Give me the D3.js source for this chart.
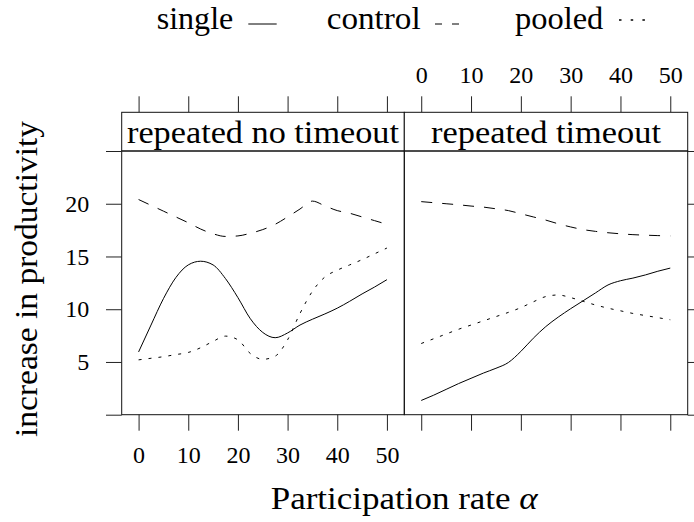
<!DOCTYPE html>
<meta charset="utf-8">
<style>
  body { margin: 0; background: #fff; }
  svg text { font-family: "Liberation Serif", "Times New Roman", serif; fill: #000; }
  .axis line { stroke: #222; }
  .axis path { display: none; }
</style>
<body>
<div id="chart"></div>
<script src="https://d3js.org/d3.v7.min.js"></script>
<script>
// participation rate grid (same for every series)
var alpha = [0, 2.5, 5, 7.5, 10, 12.5, 15, 17.5, 20, 22.5, 25, 27.5, 30, 32.5, 35, 37.5, 40, 42.5, 45, 47.5, 50];

var panels = ["repeated no timeout", "repeated timeout"];
var seriesNames = ["single", "control", "pooled"];

// repeated no timeout
var singleNoTimeout = [5.95, 8.5, 11.0, 13.0, 14.2, 14.55, 14.2, 12.9, 11.1, 9.1, 7.8, 7.3, 7.75, 8.5, 9.05, 9.55, 10.1, 10.75, 11.45, 12.1, 12.8];
var controlNoTimeout = [20.4, 19.85, 19.3, 18.75, 18.2, 17.6, 17.15, 16.9, 16.95, 17.2, 17.55, 18.05, 18.75, 19.5, 20.25, 19.8, 19.35, 19.1, 18.75, 18.4, 18.05];
var pooledNoTimeout = [5.2, 5.35, 5.5, 5.7, 5.9, 6.35, 6.95, 7.45, 7.1, 5.8, 5.25, 5.55, 7.1, 9.6, 11.7, 13.05, 13.7, 14.2, 14.7, 15.25, 15.8];

// repeated timeout
var singleTimeout = [1.35, 1.85, 2.4, 2.95, 3.45, 3.95, 4.4, 4.95, 6.0, 7.25, 8.35, 9.25, 10.05, 10.8, 11.55, 12.3, 12.7, 12.95, 13.25, 13.6, 13.9];
var controlTimeout = [20.2, 20.1, 20.0, 19.9, 19.78, 19.68, 19.52, 19.35, 19.05, 18.75, 18.45, 18.1, 17.8, 17.55, 17.38, 17.25, 17.15, 17.07, 17.02, 16.98, 16.95];
var pooledTimeout = [6.75, 7.2, 7.65, 8.1, 8.5, 8.9, 9.3, 9.7, 10.15, 10.7, 11.2, 11.35, 11.1, 10.75, 10.4, 10.1, 9.85, 9.6, 9.4, 9.2, 9.0];

var xTicks = [0, 10, 20, 30, 40, 50];
var yTicks = [0, 5, 10, 15, 20, 25];
var yLabelled = [5, 10, 15, 20];

var panelData = [
  [singleNoTimeout, controlNoTimeout, pooledNoTimeout],
  [singleTimeout, controlTimeout, pooledTimeout]
];

var dashes = { single: null, control: "11,10", pooled: "3,7" };

var W = 694, H = 522;
var pLeft = 121.7, pMid = 404.3, pRight = 687.7;
var stripTop = 112.3, pTop = 151, pBottom = 414.7;
var tick = 16;
var stripWidths = [272, 230];

var svg = d3.select("#chart").append("svg")
  .attr("width", W)
  .attr("height", H);

var y = d3.scaleLinear().domain([0, 25]).range([pBottom, pTop]);

var xs = [
  d3.scaleLinear().domain([-3.4, 53.5]).range([pLeft, pMid]),
  d3.scaleLinear().domain([-3.4, 53.5]).range([pMid, pRight])
];

panels.forEach(function(name, p) {
  var x = xs[p];
  var x0 = x.range()[0], x1 = x.range()[1];

  // ticks along bottom
  var bAxis = svg.append("g")
    .attr("class", "axis")
    .attr("transform", "translate(0," + pBottom + ")")
    .call(d3.axisBottom(x).tickValues(xTicks).tickSize(tick));
  bAxis.selectAll("text")
    .attr("y", 48.3).attr("dy", null)
    .style("font-size", "24px")
    .style("display", p == 0 ? null : "none");

  // ticks along top
  var tAxis = svg.append("g")
    .attr("class", "axis")
    .attr("transform", "translate(0," + stripTop + ")")
    .call(d3.axisTop(x).tickValues(xTicks).tickSize(tick));
  tAxis.selectAll("text")
    .attr("y", -29.3).attr("dy", null)
    .style("font-size", "24px")
    .style("display", p == 1 ? null : "none");

  // strip
  svg.append("rect")
    .attr("x", x0).attr("y", stripTop)
    .attr("width", x1 - x0).attr("height", pTop - stripTop)
    .attr("fill", "#fff").attr("stroke", "#111").attr("stroke-width", 1);
  svg.append("text")
    .attr("x", (x0 + x1) / 2).attr("y", 142.5)
    .attr("text-anchor", "middle")
    .attr("textLength", stripWidths[p])
    .attr("lengthAdjust", "spacingAndGlyphs")
    .style("font-size", "31px")
    .text(name);

  // panel box
  svg.append("rect")
    .attr("x", x0).attr("y", pTop)
    .attr("width", x1 - x0).attr("height", pBottom - pTop)
    .attr("fill", "none").attr("stroke", "#111").attr("stroke-width", 1);

  // lines
  var line = d3.line()
    .x(function(d, i) { return x(alpha[i]); })
    .y(function(d) { return y(d); })
    .curve(d3.curveMonotoneX);

  panelData[p].forEach(function(vals, s) {
    svg.append("path")
      .datum(vals)
      .attr("d", line)
      .attr("fill", "none")
      .attr("stroke", "#000")
      .attr("stroke-width", 1)
      .attr("stroke-dasharray", dashes[seriesNames[s]]);
  });
});

// y axis left
var lAxis = svg.append("g")
  .attr("class", "axis")
  .attr("transform", "translate(" + pLeft + ",0)")
  .call(d3.axisLeft(y).tickValues(yTicks).tickSize(15.7));
lAxis.selectAll("text")
  .attr("x", -32.4)
  .style("font-size", "24px")
  .style("display", function(d) { return yLabelled.indexOf(d) >= 0 ? null : "none"; });

// y axis right (labels fall outside the page)
svg.append("g")
  .attr("class", "axis")
  .attr("transform", "translate(" + pRight + ",0)")
  .call(d3.axisRight(y).tickValues(yTicks).tickSize(15.7).tickFormat(""));

// axis titles
svg.append("text")
  .attr("transform", "translate(37,279) rotate(-90)")
  .attr("text-anchor", "middle")
  .attr("textLength", 316)
  .attr("lengthAdjust", "spacingAndGlyphs")
  .style("font-size", "31px")
  .text("increase in productivity");

var xt = svg.append("text")
  .attr("x", 270.7).attr("y", 509)
  .attr("textLength", 267)
  .attr("lengthAdjust", "spacingAndGlyphs")
  .style("font-size", "31px");
xt.append("tspan").text("Participation rate ");
xt.append("tspan").style("font-style", "italic").text("α");

// key
var keyX = [156.7, 326.7, 515];
var keyW = [76.6, 94, 88.3];
var keySample = [[248.3, 276.7], [435, 460], [619, 645]];
var keyDash = [null, "7,10", "2.5,9.2"];
var keyY = [24, 24, 20];
seriesNames.forEach(function(n, i) {
  svg.append("text")
    .attr("x", keyX[i]).attr("y", 29)
    .attr("textLength", keyW[i])
    .attr("lengthAdjust", "spacingAndGlyphs")
    .style("font-size", "31px")
    .text(n);
  svg.append("line")
    .attr("x1", keySample[i][0]).attr("x2", keySample[i][1])
    .attr("y1", keyY[i]).attr("y2", keyY[i])
    .attr("stroke", "#000")
    .attr("stroke-width", i == 2 ? 1.4 : 1)
    .attr("stroke-dasharray", keyDash[i]);
});
</script>
